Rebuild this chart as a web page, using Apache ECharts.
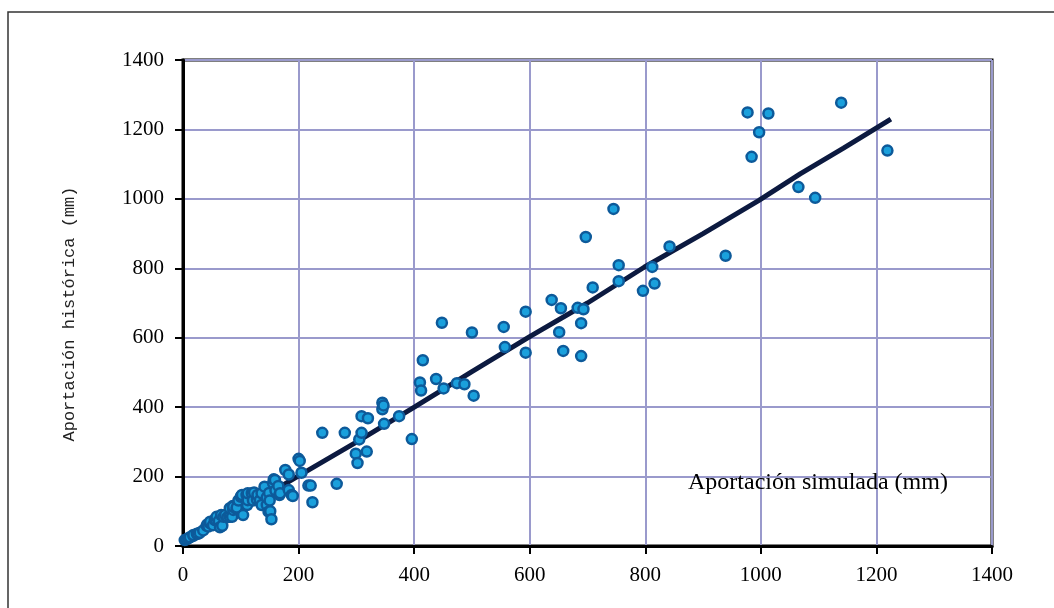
<!DOCTYPE html>
<html>
<head>
<meta charset="utf-8">
<script src="https://cdn.jsdelivr.net/npm/echarts@6/dist/echarts.min.js"></script>
<style>
  html, body { margin: 0; padding: 0; background: #fff; }
  #chart { width: 1054px; height: 608px; }
</style>
</head>
<body>
<div id="chart"></div>
<script>
// axis ticks
const xTicks = [0, 200, 400, 600, 800, 1000, 1200, 1400];
const yTicks = [0, 200, 400, 600, 800, 1000, 1200, 1400];

// simulated (x) vs historical (y) inflow, mm
const lowPoints = [
  [3,17],[6,19],[9,22],[12,25],[18,29],[18,32],[24,35],[26,35],[29,38],[35,45],
  [41,58],[42,62],[44,56],[47,65],[47,70],[52,60],[55,75],[57,75],[58,84],[62,72],
  [64,54],[66,89],[68,58],[70,84],[73,89],[77,83],[81,84],[81,109],[85,84],[86,115],
  [87,104],[87,113],[93,106],[93,111],[96,131],[100,142],[102,147],[104,89],[110,147],[111,118],
  [112,132],[112,152],[119,152],[121,131],[123,154],[128,133],[129,147],[133,132],[136,118],[136,152],
  [141,171],[145,118],[145,140],[148,99],[149,153],[150,131],[151,100],[153,77],[156,181],[157,192],
  [159,190],[160,160],[165,173],[167,147],[168,152],[177,219],[183,206],[183,161],[188,147],[190,144]
];
const midPoints = [
  [200,251],[202,245],[205,211],[217,174],[221,174],[224,126],[241,326],[266,179],[280,326],[299,266],
  [302,239],[305,307],[309,326],[309,374],[318,272],[320,368],[345,394],[345,413],[347,405],[348,352],
  [374,374],[396,308],[410,471],[412,448],[415,535],[438,481],[448,643],[451,454],[474,469],[487,466],
  [500,615],[503,433],[555,631],[557,573]
];
const highPoints = [
  [593,675],[593,557],[638,709],[651,616],[654,685],[658,562],[683,686],[689,642],[689,547],[693,682],
  [697,890],[709,745],[745,971],[754,809],[754,763],[796,735],[812,804],[816,756],[842,863],[939,836],
  [977,1249],[984,1121],[997,1192],[1013,1246],[1065,1034],[1094,1003],[1139,1277],[1219,1139]
];
// fitted line
const trendLine = [
  [5,8],[100,104],[200,202],[300,299],[401,401],[500,502],[600,603],
  [700,700],[798,803],[900,900],[996,995],[1068,1072],[1143,1146],[1225,1230]
];

const points = lowPoints.concat(midPoints, highPoints);

let chart = echarts.init(document.getElementById('chart'));
let serif = '"Liberation Serif", "Times New Roman", serif';

let option = {
  animation: false,
  backgroundColor: '#fff',
  grid: {
    left: 183, right: 62, top: 60, bottom: 62,
    outerBoundsMode: 'none',
    show: true,
    borderColor: '#000',
    borderWidth: 3
  },
  xAxis: {
    type: 'value',
    min: xTicks[0], max: xTicks[xTicks.length - 1], interval: 200,
    axisLine: { show: true, lineStyle: { color: '#000', width: 3 } },
    axisTick: { show: true, length: 8, lineStyle: { color: '#000', width: 2 } },
    axisLabel: { margin: 19, color: '#000', fontFamily: serif, fontSize: 21, formatter: v => String(v) },
    splitLine: { show: true, lineStyle: { color: '#9a9acc', width: 2 } }
  },
  yAxis: {
    type: 'value',
    min: yTicks[0], max: yTicks[yTicks.length - 1], interval: 200,
    axisLine: { show: true, lineStyle: { color: '#000', width: 3 } },
    axisTick: { show: true, length: 8, lineStyle: { color: '#000', width: 2 } },
    axisLabel: { margin: 19, color: '#000', fontFamily: serif, fontSize: 21, formatter: v => String(v) },
    splitLine: { show: true, lineStyle: { color: '#9a9acc', width: 2 } }
  },
  graphic: [
    {
      type: 'rect',
      shape: { x: 8, y: 12, width: 1100, height: 700 },
      style: { fill: 'none', stroke: '#333', lineWidth: 1.5 },
      silent: true
    },
    {
      type: 'text',
      x: 69, y: 314,
      rotation: Math.PI / 2,
      style: {
        text: 'Aportación histórica (mm)',
        fill: '#222',
        font: '17px "Liberation Mono", monospace',
        textAlign: 'center',
        textVerticalAlign: 'middle'
      }
    },
    {
      type: 'text',
      x: 688, y: 483,
      z: 10,
      style: {
        text: 'Aportación simulada (mm)',
        fill: '#000',
        font: '24px ' + serif,
        textAlign: 'left',
        textVerticalAlign: 'middle'
      }
    }
  ],
  series: [
    {
      type: 'line',
      data: trendLine,
      showSymbol: false,
      lineStyle: { color: '#0c1a40', width: 5 },
      z: 2
    },
    {
      type: 'scatter',
      data: points,
      symbolSize: 10,
      itemStyle: { color: '#1aa0dc', borderColor: '#0d5a9a', borderWidth: 2.5, opacity: 1 },
      z: 3
    }
  ]
};

chart.setOption(option);
</script>
</body>
</html>
